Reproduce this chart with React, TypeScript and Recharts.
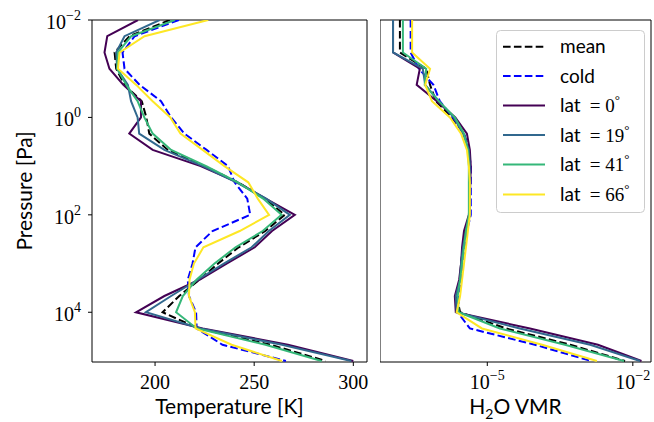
import React from 'react';
import { LineChart, Line, XAxis, YAxis, ReferenceArea, Legend, Label } from 'recharts';

// Pressure levels [Pa]
const pressureLevels = [0.01, 0.0215, 0.0464, 0.1, 0.215, 0.464, 1, 2.15, 4.64, 10, 21.5, 46.4, 100, 215, 464, 1000, 2150, 4640, 10000, 21500, 46400, 100000];

// Temperature profiles [K]
const tempMean = [207.4, 187.1, 179.6, 180.4, 184.6, 193.3, 195.6, 197.1, 206.4, 224.9, 241.8, 255.3, 265.4, 255.6, 242.2, 231.8, 222.4, 212.2, 203.8, 222.0, 258.3, 286.0];
const tempCold = [212.0, 189.7, 183.6, 184.6, 192.2, 203.0, 208.1, 214.8, 226.0, 236.8, 240.1, 246.5, 248.0, 229.0, 220.4, 218.9, 216.5, 217.1, 220.7, 221.0, 234.0, 266.0];
const tempLat0 = [191.4, 175.9, 174.5, 177.0, 184.0, 192.9, 192.9, 187.0, 198.8, 223.0, 241.6, 255.8, 270.5, 259.0, 250.3, 236.1, 222.4, 204.7, 190.4, 224.0, 267.0, 300.0];
const tempLat19 = [202.3, 184.6, 180.4, 180.9, 186.3, 187.9, 191.2, 192.0, 204.7, 224.1, 241.0, 256.0, 268.0, 257.4, 248.7, 234.7, 221.5, 208.1, 195.4, 223.0, 264.0, 299.0];
const tempLat41 = [210.0, 188.0, 181.3, 180.9, 185.5, 191.2, 194.6, 198.8, 208.1, 225.8, 241.8, 254.5, 263.8, 254.3, 240.6, 230.0, 220.9, 214.0, 210.6, 221.0, 255.7, 284.0];
const tempLat66 = [226.8, 194.7, 182.1, 181.3, 190.5, 198.8, 207.7, 212.8, 224.0, 235.0, 247.0, 251.8, 257.5, 242.7, 224.4, 219.6, 217.4, 217.1, 220.1, 220.4, 238.6, 264.0];

// H2O volume mixing ratio profiles
const vmrMean = [1.58e-7, 1.58e-7, 1.58e-7, 5.5e-7, 6.61e-7, 8.71e-7, 1.86e-6, 3.31e-6, 4.17e-6, 4.37e-6, 4.37e-6, 4.37e-6, 4.37e-6, 3.47e-6, 3.16e-6, 2.88e-6, 2.75e-6, 2.34e-6, 2.75e-6, 2.45e-5, 5.13e-4, 6.92e-3];
const vmrCold = [2.63e-7, 2.63e-7, 2.63e-7, 3.89e-7, 7.76e-7, 1.05e-6, 1.95e-6, 3.31e-6, 4.17e-6, 4.57e-6, 4.57e-6, 4.57e-6, 4.57e-6, 3.8e-6, 3.47e-6, 3.16e-6, 2.88e-6, 2.63e-6, 2.45e-6, 4.37e-6, 9.55e-5, 1.38e-3];
const vmrLat0 = [1.14e-7, 1.14e-7, 1.14e-7, 4.07e-7, 3.5e-7, 9.12e-7, 2.19e-6, 3.8e-6, 4.37e-6, 4.57e-6, 4.47e-6, 4.37e-6, 4.17e-6, 3.31e-6, 3.02e-6, 2.88e-6, 2.63e-6, 2.14e-6, 2.24e-6, 7.59e-5, 1.91e-3, 1.51e-2];
const vmrLat19 = [1.14e-7, 1.14e-7, 1.14e-7, 4.68e-7, 5.25e-7, 1.0e-6, 2.04e-6, 3.16e-6, 4.17e-6, 4.37e-6, 4.37e-6, 4.37e-6, 4.37e-6, 3.63e-6, 3.16e-6, 2.88e-6, 2.75e-6, 2.24e-6, 2.34e-6, 4.68e-5, 1.32e-3, 1.41e-2];
const vmrLat41 = [1.82e-7, 1.82e-7, 1.82e-7, 5.5e-7, 5.13e-7, 1.0e-6, 2.14e-6, 3.31e-6, 3.98e-6, 4.17e-6, 4.17e-6, 4.17e-6, 4.17e-6, 3.63e-6, 3.31e-6, 3.02e-6, 2.75e-6, 2.45e-6, 2.57e-6, 1.82e-5, 3.98e-4, 6.61e-3];
const vmrLat66 = [2.82e-7, 2.82e-7, 2.82e-7, 6.61e-7, 5.25e-7, 7.24e-7, 1.7e-6, 2.88e-6, 3.8e-6, 4.17e-6, 4.37e-6, 4.37e-6, 4.37e-6, 3.98e-6, 3.63e-6, 3.31e-6, 3.02e-6, 2.75e-6, 2.34e-6, 7.76e-6, 1.35e-4, 1.82e-3];

const tempTicks = [200, 250, 300];
const pressureTicks = [0.01, 1, 100, 10000];
const vmrTicks = [1e-5, 1e-2];

const SERIES = [
  { key: 'mean', label: 'mean', lat: null, color: '#000000', dash: '7.6 3.3' },
  { key: 'cold', label: 'cold', lat: null, color: '#0000ff', dash: '7.6 3.3' },
  { key: 'lat0', label: 'lat', lat: '0', color: '#440154', dash: undefined },
  { key: 'lat19', label: 'lat', lat: '19', color: '#31688e', dash: undefined },
  { key: 'lat41', label: 'lat', lat: '41', color: '#35b779', dash: undefined },
  { key: 'lat66', label: 'lat', lat: '66', color: '#fde725', dash: undefined },
];

const tempRows = pressureLevels.map((p, i) => ({
  p, mean: tempMean[i], cold: tempCold[i], lat0: tempLat0[i], lat19: tempLat19[i], lat41: tempLat41[i], lat66: tempLat66[i],
}));
const vmrRows = pressureLevels.map((p, i) => ({
  p, mean: vmrMean[i], cold: vmrCold[i], lat0: vmrLat0[i], lat19: vmrLat19[i], lat41: vmrLat41[i], lat66: vmrLat66[i],
}));

const SERIF = "'Liberation Serif', 'DejaVu Serif', serif";
const SANS = "Lato, 'Open Sans', 'DejaVu Sans', sans-serif";

const P_MIN = 0.01;
const P_MAX = 105000;
const T_MIN = 168.2;
const T_MAX = 306.9;
const V_MIN = 6.14e-8;
const V_MAX = 2.37e-2;

const expStr = (v: number) => {
  const e = Math.round(Math.log10(v));
  return e < 0 ? '\u2212' + Math.abs(e) : String(e);
};

const PowTickY = (props: any) => {
  const { x, y, payload } = props;
  return (
    <text x={x} y={y + 9} textAnchor="end" fontFamily={SERIF} fontSize={20} fill="#000">
      <tspan>10</tspan>
      <tspan dy={-9} fontSize={14}>{expStr(payload.value)}</tspan>
    </text>
  );
};

const PowTickX = (props: any) => {
  const { x, y, payload } = props;
  return (
    <text x={x} y={y + 19} textAnchor="middle" fontFamily={SERIF} fontSize={20} fill="#000">
      <tspan>10</tspan>
      <tspan dy={-9} fontSize={14}>{expStr(payload.value)}</tspan>
    </text>
  );
};

const NumTickX = (props: any) => {
  const { x, y, payload } = props;
  return (
    <text x={x} y={y + 19} textAnchor="middle" fontFamily={SERIF} fontSize={20} fill="#000">
      {payload.value}
    </text>
  );
};

const TempTitle = (props: any) => {
  const vb = props.viewBox || {};
  return (
    <text x={vb.x + vb.width / 2} y={vb.y + 52} textAnchor="middle" fontFamily={SANS} fontSize={21} fill="#000">
      Temperature [K]
    </text>
  );
};

const VmrTitle = (props: any) => {
  const vb = props.viewBox || {};
  return (
    <text x={vb.x + vb.width / 2} y={vb.y + 52} textAnchor="middle" fontFamily={SANS} fontSize={21} fill="#000">
      <tspan>H</tspan>
      <tspan dy={5} fontSize={14}>2</tspan>
      <tspan dy={-5}>O VMR</tspan>
    </text>
  );
};

const PressTitle = (props: any) => {
  const vb = props.viewBox || {};
  const cx = 31.5;
  const cy = vb.y + vb.height / 2;
  return (
    <text x={cx} y={cy} transform={`rotate(-90 ${cx} ${cy})`} textAnchor="middle" fontFamily={SANS} fontSize={21} fill="#000">
      Pressure [Pa]
    </text>
  );
};

const LegendBox = () => {
  const rowY = [46.7, 76, 105.5, 135, 164.5, 194.5];
  return (
    <svg width={150} height={184} style={{ display: 'block', overflow: 'visible' }}>
      <rect x={0.5} y={0.5} width={148} height={182} rx={4} ry={4} fill="#ffffff" fillOpacity={0.8} stroke="#cccccc" strokeWidth={1} />
      {SERIES.map((s, i) => {
        const cy = rowY[i] - 30;
        return (
          <g key={s.key}>
            <line x1={7} x2={49} y1={cy} y2={cy} stroke={s.color} strokeWidth={2} strokeDasharray={s.dash} />
            {s.lat === null ? (
              <text x={64} y={cy + 6.5} fontFamily={SANS} fontSize={19} fill="#000">{s.label}</text>
            ) : (
              <text x={64} y={cy + 6.5} fontSize={19} fill="#000">
                <tspan fontFamily={SANS}>lat</tspan>
                <tspan fontFamily={SERIF} dx={9}>=</tspan>
                <tspan fontFamily={SERIF} dx={5}>{s.lat}</tspan>
                <tspan fontFamily={SERIF} fontSize={13} dy={-8}>{'\u00B0'}</tspan>
              </text>
            )}
          </g>
        );
      })}
    </svg>
  );
};

const renderLines = () =>
  SERIES.map((s) => (
    <Line
      key={s.key}
      dataKey={s.key}
      name={s.key}
      type="linear"
      stroke={s.color}
      strokeWidth={2}
      strokeDasharray={s.dash}
      dot={false}
      activeDot={false}
      isAnimationActive={false}
    />
  ));

export default function App() {
  return (
    <div style={{ position: 'absolute', left: 0, top: 0, width: 654, height: 422, background: '#fff' }}>
      <div style={{ position: 'absolute', left: 0, top: 0 }}>
        <LineChart width={370} height={422} layout="vertical" data={tempRows} margin={{ top: 20, right: 3, bottom: 0, left: 0 }}>
          <XAxis
            type="number"
            domain={[T_MIN, T_MAX]}
            allowDataOverflow
            ticks={tempTicks}
            tick={<NumTickX />}
            tickSize={4}
            tickMargin={4}
            height={60}
            axisLine={false}
            tickLine={{ stroke: '#000', strokeWidth: 1 }}
          >
            <Label content={<TempTitle />} />
          </XAxis>
          <YAxis
            type="number"
            dataKey="p"
            scale="log"
            domain={[P_MIN, P_MAX]}
            allowDataOverflow
            ticks={pressureTicks}
            tick={<PowTickY />}
            tickSize={4}
            tickMargin={7}
            width={92}
            axisLine={false}
            tickLine={{ stroke: '#000', strokeWidth: 1 }}
          >
            <Label content={<PressTitle />} />
          </YAxis>
          {renderLines()}
          <ReferenceArea x1={T_MIN} x2={T_MAX} y1={P_MIN} y2={P_MAX} fill="none" fillOpacity={0} stroke="#000" strokeWidth={1} ifOverflow="visible" />
        </LineChart>
      </div>
      <div style={{ position: 'absolute', left: 380, top: 0 }}>
        <LineChart width={274} height={422} layout="vertical" data={vmrRows} margin={{ top: 20, right: 3, bottom: 0, left: 0 }}>
          <XAxis
            type="number"
            scale="log"
            domain={[V_MIN, V_MAX]}
            allowDataOverflow
            ticks={vmrTicks}
            tick={<PowTickX />}
            tickSize={4}
            tickMargin={4}
            height={60}
            axisLine={false}
            tickLine={{ stroke: '#000', strokeWidth: 1 }}
          >
            <Label content={<VmrTitle />} />
          </XAxis>
          <YAxis type="number" dataKey="p" scale="log" domain={[P_MIN, P_MAX]} allowDataOverflow hide />
          {renderLines()}
          <ReferenceArea x1={V_MIN} x2={V_MAX} y1={P_MIN} y2={P_MAX} fill="none" fillOpacity={0} stroke="#000" strokeWidth={1} ifOverflow="visible" />
          <Legend
            layout="vertical"
            align="center"
            verticalAlign="middle"
            wrapperStyle={{ left: 116, top: 30, width: 150, height: 184 }}
            content={<LegendBox />}
          />
        </LineChart>
      </div>
    </div>
  );
}
